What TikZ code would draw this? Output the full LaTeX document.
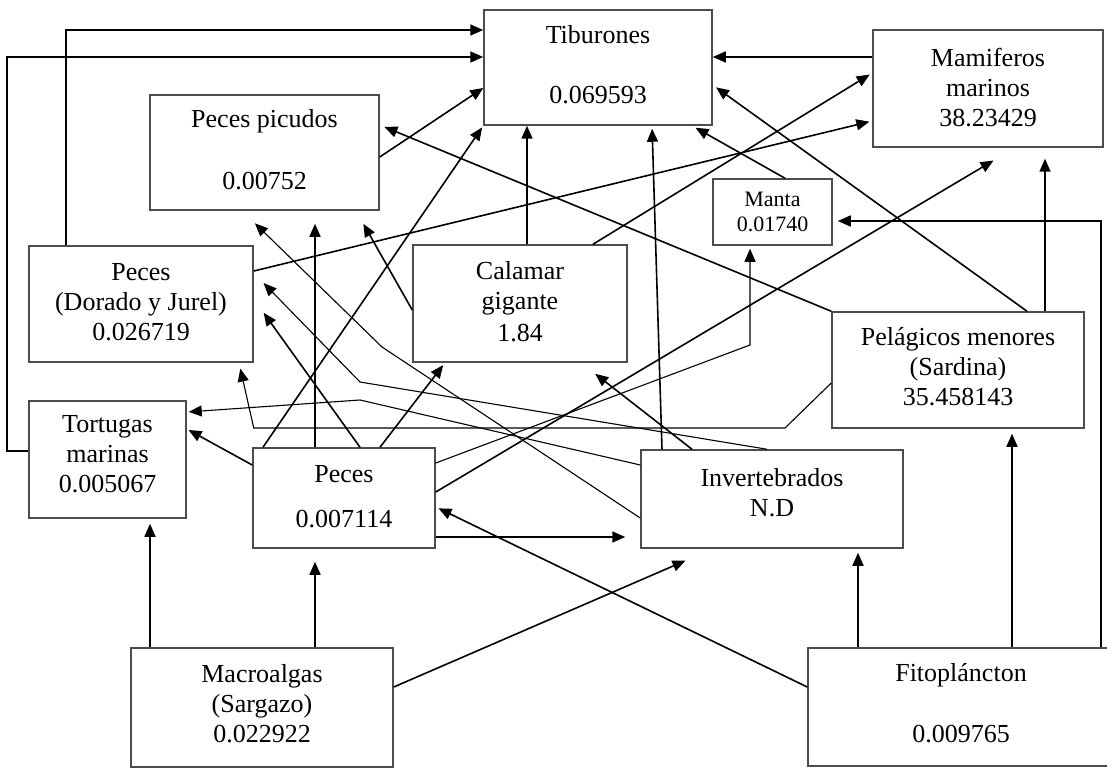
\documentclass[tikz,border=0pt]{standalone}
\usepackage{fontspec}
\setmainfont{Liberation Serif}
\usetikzlibrary{arrows.meta}
\newcommand{\lowdepth}[1]{\rule[-#1]{0pt}{#1}}

\begin{document}
\begin{tikzpicture}[x=1pt,y=-1pt,
  box/.style={draw=black!70,line width=1.5pt,inner sep=0pt,align=center,font=\fontsize{26}{30}\selectfont},
  arr/.style={line width=1.6pt,-{Triangle[length=13pt,width=11pt]}},
  thinarr/.style={line width=1.1pt,-{Triangle[length=13pt,width=11pt]}}]
\useasboundingbox (0,0) rectangle (1107,770);
\clip (0,0) rectangle (1107,770);
\fill[white] (0,0) rectangle (1107,770);

\node[box,minimum width=228pt,minimum height=115pt] (tib) at (598,67.5) {Tiburones\\[30pt]0.069593\lowdepth{7pt}};
\node[box,minimum width=230pt,minimum height=117pt] (mam) at (988,88.5) {Mamiferos\\marinos\\38.23429\lowdepth{2pt}};
\node[box,minimum width=229pt,minimum height=115pt] (pic) at (264.5,152.5) {Peces picudos\\[32pt]0.00752\lowdepth{7pt}};
\node[box,minimum width=119pt,minimum height=66pt,font=\fontsize{22}{25}\selectfont] (man) at (772.5,212) {Manta\\0.01740};
\node[box,minimum width=224pt,minimum height=116pt] (dor) at (141,304) {Peces\\(Dorado y Jurel)\\0.026719\lowdepth{5pt}};
\node[box,minimum width=214pt,minimum height=117pt] (cal) at (520,303.5) {Calamar\\gigante\\[2pt]1.84\lowdepth{5pt}};
\node[box,minimum width=252pt,minimum height=116pt] (pel) at (958,370) {Pelágicos menores\\(Sardina)\\35.458143\lowdepth{7pt}};
\node[box,minimum width=157pt,minimum height=117pt] (tor) at (107.5,459.5) {Tortugas\\marinas\\0.005067\lowdepth{11pt}};
\node[box,minimum width=182pt,minimum height=100pt] (pec) at (344,498) {Peces\\[15pt]0.007114\lowdepth{4pt}};
\node[box,minimum width=262pt,minimum height=98pt] (inv) at (772,499) {Invertebrados\\N.D\lowdepth{13pt}};
\node[box,minimum width=262pt,minimum height=119pt] (mac) at (262,707.5) {Macroalgas\\(Sargazo)\\0.022922\lowdepth{9pt}};
\node[box,minimum width=306pt,minimum height=118pt] (fit) at (961,707) {Fitopl\'ancton\\[31pt]0.009765\lowdepth{8pt}};

\draw[arr] (dor.north -| 66,0) |- (tib.west |- 0,30);
\draw[arr] (tor.west |- 0,451) -- ++(-21,0) |- (tib.west |- 0,57);
\draw[arr] (pic.east |- 0,157) -- (tib.west |- 0,88);
\draw[arr,shorten >=2pt] (pec.north -| 263,0) -- (tib.south west);
\draw[arr] (cal.north -| 527,0) -- (tib.south -| 527,0);
\draw[arr,shorten >=3pt] (inv.north -| 662,0) -- (tib.south -| 652,0);
\draw[arr,shorten >=4pt] (man.north -| 785,0) -- (tib.south -| 692,0);
\draw[arr,shorten >=4pt] (pel.north -| 1027,0) -- (tib.east |- 0,85);
\draw[arr] (mam.west |- 0,57) -- (tib.east |- 0,57);
\draw[arr,shorten >=3pt] (cal.north -| 593,0) -- (mam.west |- 0,73);
\draw[arr,shorten >=3pt] (dor.east |- 0,271) -- (mam.west |- 0,121);
\draw[arr,shorten >=25pt] (pec.east |- 0,492) -- (mam.south -| 1015,0);
\draw[arr,shorten >=11pt] (pel.north -| 1045,0) -- (mam.south -| 1045,0);
\draw[arr,shorten >=5pt] (pel.north west) -- (pic.east |- 0,125);
\draw[thinarr,shorten >=18pt] (inv.west |- 0,518) -- (382,347) -- (pic.south -| 242,0);
\draw[arr,shorten >=13pt] (pec.north -| 315,0) -- (pic.south -| 315,0);
\draw[arr,shorten >=15pt] (cal.west |- 0,310) -- (pic.south -| 356,0);
\draw[thinarr,shorten >=3pt] (pec.east |- 0,463) -- (750,345) -- (man.south -| 750,0);
\draw[arr,shorten >=5pt] (fit.north -| 1101,0) |- (man.east |- 0,221);
\draw[thinarr,shorten >=14pt] (inv.north -| 767,0) -- (360,382) -- (dor.east |- 0,273);
\draw[arr,shorten >=17pt] (pec.north -| 360,0) -- (dor.east |- 0,299);
\draw[thinarr,shorten >=6pt] (pel.west |- 0,383) -- (785,428) -- (dor.east |- 0,428) -- (dor.south -| 239,0);
\draw[arr,shorten >=3pt] (pec.north -| 380,0) -- (cal.south -| 445,0);
\draw[arr,shorten >=18pt] (inv.north -| 692,0) -- (cal.south -| 581,0);
\draw[arr,shorten >=5pt] (fit.north -| 1012,0) -- (pel.south -| 1012,0);
\draw[thinarr,shorten >=2pt] (inv.west |- 0,465) -- (360,400) -- (tor.east |- 0,412);
\draw[arr,shorten >=2pt] (pec.west |- 0,465) -- (tor.east |- 0,429);
\draw[arr,shorten >=5pt] (mac.north -| 150,0) -- (tor.south -| 150,0);
\draw[arr,shorten >=13pt] (mac.north -| 315,0) -- (pec.south -| 315,0);
\draw[arr,shorten >=3pt] (fit.west |- 0,687) -- (pec.east |- 0,507);
\draw[arr,shorten >=15pt] (pec.east |- 0,537) -- (inv.west |- 0,537);
\draw[arr,shorten >=30pt] (mac.east |- 0,687) -- (inv.south -| 713,0);
\draw[arr,shorten >=4pt] (fit.north -| 858,0) -- (inv.south -| 858,0);
\end{tikzpicture}
\end{document}
